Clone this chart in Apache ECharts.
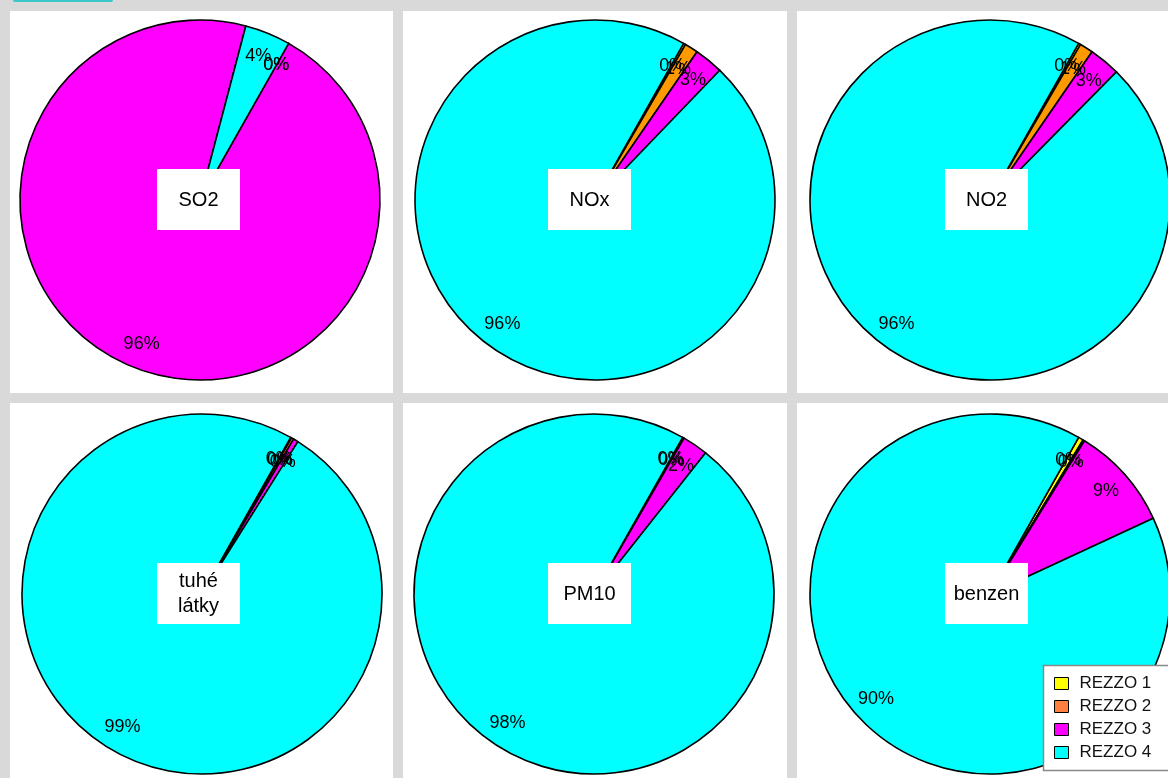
<!DOCTYPE html>
<html>
<head>
<meta charset="utf-8">
<script src="https://cdn.jsdelivr.net/npm/echarts@6/dist/echarts.min.js"></script>
<style>
html,body{margin:0;padding:0;background:#D9D9D9;}
#main{width:1168px;height:778px;}
</style>
</head>
<body>
<div id="main"></div>
<script>
// Categories (sources)
const categories = ['REZZO 1', 'REZZO 2', 'REZZO 3', 'REZZO 4'];
// Pollutant titles
const pollutants = ['SO2', 'NOx', 'NO2', 'tuhé\nlátky', 'PM10', 'benzen'];
// Share of each source (%) per pollutant, in category order
const so2Values    = [0,    0,    95.9, 4.1];
const noxValues    = [0.2,  1.2,  2.6,  96.0];
const no2Values    = [0.2,  1.2,  2.8,  95.8];
const tuheValues   = [0.1,  0.2,  0.45, 99.25];
const pm10Values   = [0.05, 0.1,  2.3,  97.55];
const benzenValues = [0.45, 0.15, 9.3,  90.1];
const allValues = [so2Values, noxValues, no2Values, tuheValues, pm10Values, benzenValues];

// styling
const sliceColors = ['#FFFF00', '#FF9900', '#FF00FF', '#00FFFF'];
const legendColors = ['#FFFF00', '#FF8040', '#FF00FF', '#00FFFF'];
const FONT = '"Liberation Sans", Arial, sans-serif';

const panels = [
  {x: 10, y: 11, w: 383, h: 382},
  {x: 403, y: 11, w: 384, h: 382},
  {x: 797, y: 11, w: 400, h: 382},
  {x: 10, y: 403, w: 383, h: 400},
  {x: 403, y: 403, w: 384, h: 400},
  {x: 797, y: 403, w: 400, h: 400}
];
const centers = [[200, 200], [595, 200], [990, 200], [202, 594], [594, 594], [990, 594]];
const boxes = [[157, 169], [548, 169], [945, 169], [157, 563], [548, 563], [945, 563]];
const R = 180;
const startAngle = 60.5;

const series = [];
allValues.forEach((vals, i) => {
  const data = categories.map((c, k) => ({name: c, value: vals[k], itemStyle: {color: sliceColors[k]}}));
  series.push({
    type: 'pie',
    center: centers[i],
    radius: [0, R],
    startAngle: startAngle,
    clockwise: true,
    avoidLabelOverlap: false,
    label: {show: false},
    labelLine: {show: false},
    emphasis: {disabled: true},
    itemStyle: {borderColor: '#000', borderWidth: 1.6},
    data: data,
    z: 2
  });
  series.push({
    type: 'pie',
    center: centers[i],
    radius: [124, R],
    startAngle: startAngle,
    clockwise: true,
    avoidLabelOverlap: false,
    silent: true,
    legendHoverLink: false,
    emphasis: {disabled: true},
    itemStyle: {color: 'rgba(0,0,0,0)', borderWidth: 0},
    label: {
      show: true,
      position: 'inside',
      color: '#000',
      fontFamily: FONT,
      fontSize: 18,
      formatter: p => Math.round(p.percent) + '%'
    },
    labelLayout: {hideOverlap: false},
    labelLine: {show: false},
    data: categories.map((c, k) => ({name: c, value: vals[k]})),
    z: 3
  });
});

const graphics = [];
graphics.push({type: 'rect', shape: {x: 13, y: -4, width: 100, height: 6, r: 2}, style: {fill: '#3CC8C8'}, z: 1});
panels.forEach(p => {
  graphics.push({type: 'rect', shape: {x: p.x, y: p.y, width: p.w, height: p.h}, style: {fill: '#FFFFFF'}, z: 0, silent: true});
});
boxes.forEach((b, i) => {
  graphics.push({type: 'rect', shape: {x: b[0], y: b[1], width: 83, height: 61}, style: {fill: '#FFFFFF'}, z: 100, silent: true});
  graphics.push({
    type: 'text', x: b[0] + 41.5, y: b[1] + 31, z: 101, silent: true,
    style: {text: pollutants[i], font: '20px ' + FONT, fill: '#000', align: 'center', verticalAlign: 'middle', lineHeight: 25}
  });
});
// legend frame (extends past the right edge as in the reference)
graphics.push({type: 'rect', shape: {x: 1043.5, y: 665.5, width: 160, height: 105}, style: {fill: '#FFFFFF', stroke: '#888888', lineWidth: 1.5}, z: 150, silent: true});

const chart = echarts.init(document.getElementById('main'));
chart.setOption({
  backgroundColor: '#D9D9D9',
  animation: false,
  graphic: graphics,
  legend: {
    orient: 'vertical',
    left: 1043,
    top: 665,
    z: 200,
    padding: [10, 10, 10, 11],
    borderWidth: 0,
    itemWidth: 14,
    itemHeight: 12,
    itemGap: 6,
    icon: 'rect',
    selectedMode: false,
    textStyle: {fontFamily: FONT, fontSize: 17, color: '#111', padding: [0, 0, 0, 6]},
    data: categories.map((c, k) => ({name: c, itemStyle: {color: legendColors[k], borderColor: '#000', borderWidth: 1}}))
  },
  series: series
});
</script>
</body>
</html>
